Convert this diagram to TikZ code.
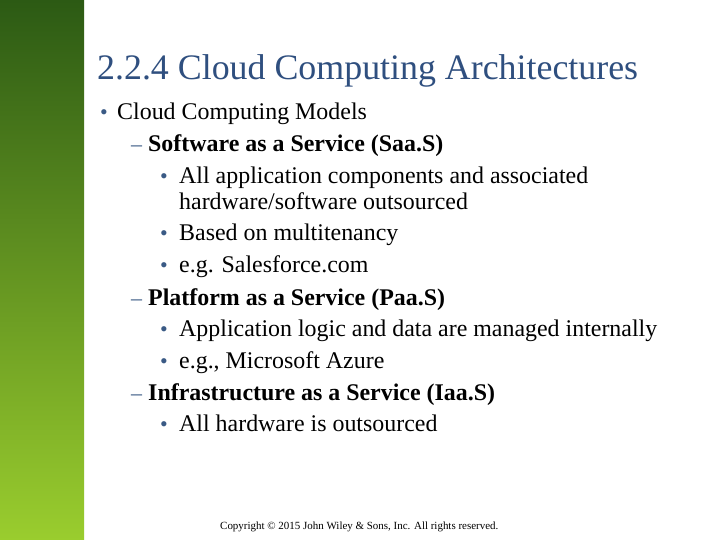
\documentclass[tikz,border=0pt]{standalone}
\usepackage{fontspec}
\setmainfont{Liberation Serif}
\definecolor{ttl}{HTML}{2F4F7F}
\definecolor{bul}{HTML}{3A5A85}
\definecolor{gtop}{HTML}{2C5A14}
\definecolor{gmid}{HTML}{428A1E}
\definecolor{gbot}{HTML}{9ACD2E}
\begin{document}
\begin{tikzpicture}[x=1bp,y=-1bp,
  txt/.style={anchor=base west,inner sep=0pt,font=\fontsize{24}{24}\selectfont},
  bmark/.style={anchor=base west,inner sep=0pt,text=bul,font=\fontsize{22}{22}\selectfont}]
\useasboundingbox (0,0) rectangle (720,540);
\fill[white] (0,0) rectangle (720,540);
\shade[top color=gtop,middle color=gmid,bottom color=gbot] (0,0) rectangle (84,540);
\node[anchor=base west,inner sep=0pt,text=ttl,font=\fontsize{36}{36}\selectfont] (title) at (97,80) {2.2.4 Cloud Computing Architectures};
\node[bmark] (b1) at (100,120) {•};
\node[txt] (t1) at (117,120) {Cloud Computing Models};
\node[bmark] (d1) at (131,152) {–};
\node[txt,font=\fontsize{24}{24}\selectfont\bfseries] (t2) at (148,152) {Software as a Service (Saa.S)};
\node[bmark] (b2) at (160,184) {•};
\node[txt] (t3) at (179,184) {All application components and associated};
\node[txt] (t3b) at (179,210) {hardware/software outsourced};
\node[bmark] (b3) at (160,241) {•};
\node[txt] (t4) at (179,241) {Based on multitenancy};
\node[bmark] (b4) at (160,273) {•};
\node[txt] (t5) at (179,273) {e.g. Salesforce.com};
\node[bmark] (d2) at (131,305) {–};
\node[txt,font=\fontsize{24}{24}\selectfont\bfseries] (t6) at (148,305) {Platform as a Service (Paa.S)};
\node[bmark] (b5) at (160,336) {•};
\node[txt] (t7) at (179,336) {Application logic and data are managed internally};
\node[bmark] (b6) at (160,368) {•};
\node[txt] (t8) at (179,368) {e.g., Microsoft Azure};
\node[bmark] (d3) at (131,400) {–};
\node[txt,font=\fontsize{24}{24}\selectfont\bfseries] (t9) at (148,400) {Infrastructure as a Service (Iaa.S)};
\node[bmark] (b7) at (160,431) {•};
\node[txt] (t10) at (179,431) {All hardware is outsourced};
\node[anchor=base west,inner sep=0pt,font=\fontsize{11}{11}\selectfont] (foot) at (220,529) {Copyright © 2015 John Wiley \& Sons, Inc. All rights reserved.};
\end{tikzpicture}
\end{document}
